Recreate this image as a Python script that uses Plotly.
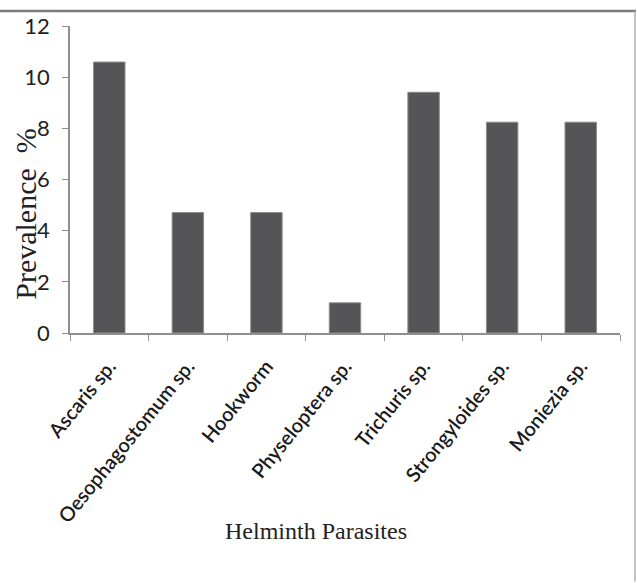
import plotly.graph_objects as go

# Prevalence (%) of helminth parasites
parasites = ["Ascaris sp.", "Oesophagostomum sp.", "Hookworm", "Physeloptera sp.",
             "Trichuris sp.", "Strongyloides sp.", "Moniezia sp."]
prevalence = [10.59, 4.71, 4.71, 1.18, 9.41, 8.24, 8.24]
y_ticks = [0, 2, 4, 6, 8, 10, 12]

W, H = 637, 583
L, R, T, B = 70, 17, 24, 250
pw, ph = W - L - R, H - T - B

def px_to_paper_x(px):
    return (px - L) / pw

def px_to_paper_y(py):
    return (H - B - py) / ph

fig = go.Figure(go.Bar(
    x=parasites, y=prevalence,
    width=0.4,
    marker=dict(color="#555557", line=dict(color="#8c8c8c", width=1)),
))

axis_grey = "#8f8f8f"
fig.update_layout(
    width=W, height=H,
    margin=dict(l=L, r=R, t=T, b=B),
    plot_bgcolor="white", paper_bgcolor="white",
    showlegend=False,
    bargap=0.6,
    xaxis=dict(
        showline=True, linecolor=axis_grey, linewidth=1.5,
        ticks="outside", tickson="boundaries", ticklen=6, tickcolor=axis_grey,
        tickangle=-51, ticklabelstandoff=12,
        tickfont=dict(family="Lato", size=20, color="#1a1a1a", weight=600),
        showgrid=False,
    ),
    yaxis=dict(
        range=[0, 12], tickvals=y_ticks,
        showline=True, linecolor=axis_grey, linewidth=1.5,
        ticks="outside", ticklen=6, tickcolor=axis_grey,
        ticklabelstandoff=8,
        tickfont=dict(family="Lato", size=22, color="#222"),
        showgrid=False, zeroline=False,
    ),
    annotations=[
        dict(text="Prevalence  %", textangle=-90, showarrow=False,
             xref="paper", yref="paper",
             x=px_to_paper_x(26), y=px_to_paper_y(213),
             xanchor="center", yanchor="middle",
             font=dict(family="Liberation Serif", size=30, color="#222")),
        dict(text="Helminth Parasites", showarrow=False,
             xref="paper", yref="paper",
             x=px_to_paper_x(316), y=px_to_paper_y(532),
             xanchor="center", yanchor="middle",
             font=dict(family="Liberation Serif", size=24, color="#222")),
    ],
    shapes=[
        dict(type="line", xref="paper", yref="paper",
             x0=px_to_paper_x(0), x1=px_to_paper_x(636),
             y0=px_to_paper_y(9), y1=px_to_paper_y(9),
             line=dict(color="#7a7a7a", width=2.5)),
        dict(type="line", xref="paper", yref="paper",
             x0=px_to_paper_x(635), x1=px_to_paper_x(635),
             y0=px_to_paper_y(9), y1=px_to_paper_y(583),
             line=dict(color="#b0b0b0", width=1.5)),
    ],
)

fig.write_html("out.html")
